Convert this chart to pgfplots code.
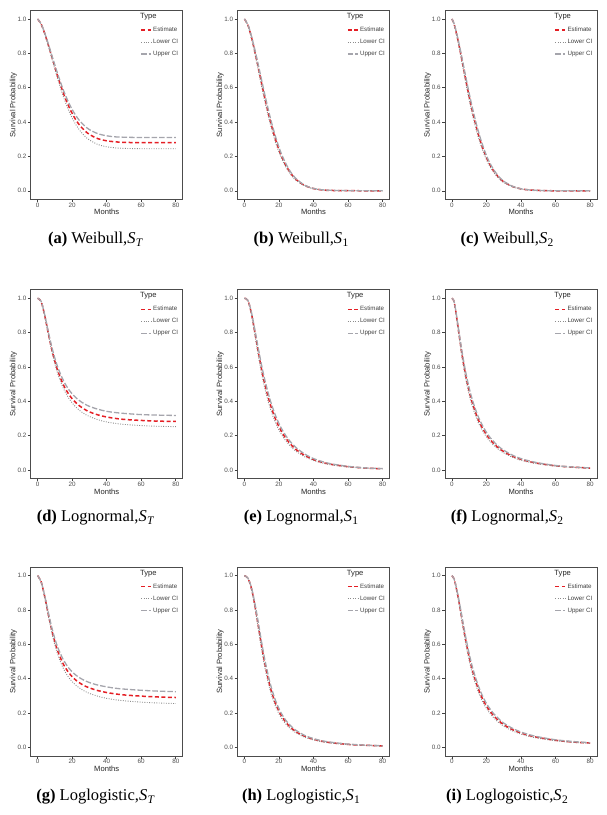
\documentclass[border=0pt]{standalone}
\usepackage{fontspec}
\setmainfont{Liberation Serif}
\newfontfamily\arial{Liberation Sans}
\usepackage{pgfplots}
\usepackage{pgfplotstable}
\pgfplotsset{compat=1.18}

\definecolor{estred}{RGB}{228,30,36}
\definecolor{lowgray}{RGB}{140,140,140}
\definecolor{upgray}{RGB}{165,165,172}

\pgfplotstableread{
t E L U
0 1.000 1.000 1.000
2 0.971 0.970 0.973
4 0.919 0.915 0.923
6 0.856 0.849 0.862
8 0.788 0.778 0.797
10 0.720 0.707 0.732
12 0.655 0.638 0.669
15 0.566 0.545 0.584
18 0.492 0.467 0.513
21 0.432 0.405 0.456
24 0.386 0.357 0.412
27 0.353 0.321 0.380
30 0.328 0.296 0.356
35 0.303 0.269 0.332
40 0.291 0.256 0.320
45 0.285 0.250 0.314
50 0.282 0.247 0.312
60 0.280 0.245 0.310
70 0.280 0.245 0.310
80 0.280 0.245 0.310
}\tabA

\pgfplotstableread{
t E L U
0 1.000 1.000 1.000
2 0.965 0.962 0.968
4 0.897 0.890 0.904
6 0.812 0.800 0.824
8 0.719 0.703 0.735
10 0.624 0.605 0.643
12 0.532 0.512 0.552
15 0.406 0.387 0.425
18 0.299 0.282 0.316
21 0.213 0.200 0.226
24 0.148 0.138 0.158
27 0.099 0.092 0.106
30 0.065 0.060 0.070
35 0.030 0.028 0.032
40 0.013 0.012 0.014
45 0.005 0.005 0.006
50 0.002 0.002 0.003
60 0.001 0.001 0.001
70 0.000 0.000 0.000
80 0.000 0.000 0.000
}\tabB

\pgfplotstableread{
t E L U
0 1.000 1.000 1.000
1 0.979 0.978 0.980
2 0.943 0.939 0.947
4 0.853 0.843 0.863
6 0.751 0.736 0.766
8 0.647 0.629 0.665
10 0.548 0.528 0.568
12 0.457 0.437 0.477
15 0.339 0.321 0.357
18 0.244 0.229 0.259
21 0.171 0.160 0.182
24 0.118 0.110 0.126
27 0.079 0.073 0.085
30 0.052 0.048 0.056
35 0.025 0.023 0.027
40 0.011 0.010 0.012
45 0.005 0.005 0.005
50 0.002 0.002 0.002
60 0.000 0.000 0.000
70 0.000 0.000 0.000
80 0.000 0.000 0.000
}\tabC

\pgfplotstableread{
t E L U
0 1.000 1.000 1.000
2 0.983 0.982 0.984
4 0.905 0.901 0.910
6 0.806 0.798 0.815
8 0.712 0.700 0.726
10 0.633 0.618 0.651
12 0.569 0.551 0.590
15 0.495 0.474 0.520
18 0.442 0.419 0.469
21 0.404 0.379 0.433
24 0.376 0.350 0.406
27 0.355 0.328 0.386
30 0.339 0.312 0.371
35 0.321 0.293 0.354
40 0.309 0.280 0.342
45 0.301 0.272 0.335
50 0.295 0.266 0.330
60 0.289 0.259 0.323
70 0.285 0.255 0.320
80 0.283 0.253 0.318
}\tabD

\pgfplotstableread{
t E L U
0 1.000 1.000 1.000
2 0.988 0.987 0.989
4 0.915 0.907 0.923
6 0.805 0.789 0.820
8 0.690 0.668 0.711
10 0.584 0.559 0.608
12 0.492 0.467 0.517
15 0.382 0.358 0.405
18 0.297 0.276 0.318
21 0.233 0.215 0.251
24 0.185 0.170 0.200
27 0.148 0.135 0.161
30 0.119 0.109 0.130
35 0.085 0.077 0.093
40 0.061 0.056 0.067
45 0.045 0.041 0.050
50 0.034 0.031 0.037
60 0.020 0.018 0.022
70 0.012 0.011 0.013
80 0.008 0.007 0.009
}\tabE

\pgfplotstableread{
t E L U
0 1.000 1.000 1.000
1 0.988 0.987 0.989
2 0.940 0.936 0.945
4 0.799 0.786 0.812
6 0.663 0.645 0.681
8 0.550 0.530 0.570
10 0.458 0.438 0.478
12 0.385 0.366 0.404
15 0.300 0.283 0.317
18 0.239 0.224 0.254
21 0.192 0.180 0.204
24 0.157 0.146 0.168
27 0.129 0.120 0.138
30 0.108 0.100 0.116
35 0.081 0.075 0.087
40 0.062 0.057 0.067
45 0.049 0.045 0.053
50 0.039 0.036 0.042
60 0.025 0.023 0.027
70 0.017 0.016 0.018
80 0.012 0.011 0.013
}\tabF

\pgfplotstableread{
t E L U
0 1.000 1.000 1.000
2 0.966 0.964 0.967
4 0.884 0.878 0.889
6 0.785 0.775 0.796
8 0.692 0.678 0.707
10 0.615 0.596 0.633
12 0.552 0.531 0.574
15 0.483 0.458 0.509
18 0.436 0.408 0.463
21 0.402 0.373 0.431
24 0.378 0.348 0.408
27 0.360 0.329 0.391
30 0.347 0.315 0.378
35 0.331 0.298 0.363
40 0.320 0.286 0.353
45 0.312 0.278 0.345
50 0.306 0.272 0.340
60 0.299 0.264 0.333
70 0.294 0.259 0.328
80 0.291 0.256 0.325
}\tabG

\pgfplotstableread{
t E L U
0 1.000 1.000 1.000
2 0.986 0.985 0.987
4 0.929 0.923 0.935
6 0.831 0.818 0.844
8 0.711 0.693 0.730
10 0.589 0.567 0.611
12 0.480 0.457 0.502
15 0.349 0.329 0.370
18 0.257 0.240 0.274
21 0.192 0.178 0.206
24 0.147 0.136 0.158
27 0.115 0.106 0.124
30 0.091 0.084 0.099
35 0.065 0.059 0.070
40 0.048 0.044 0.052
45 0.036 0.033 0.039
50 0.028 0.026 0.031
60 0.018 0.017 0.020
70 0.013 0.012 0.014
80 0.009 0.008 0.010
}\tabH

\pgfplotstableread{
t E L U
0 1.000 1.000 1.000
1 0.986 0.985 0.987
2 0.953 0.949 0.957
4 0.853 0.843 0.863
6 0.736 0.721 0.752
8 0.624 0.605 0.643
10 0.526 0.506 0.546
12 0.444 0.424 0.464
15 0.349 0.331 0.367
18 0.278 0.262 0.294
21 0.226 0.212 0.240
24 0.187 0.175 0.199
27 0.157 0.146 0.168
30 0.133 0.124 0.142
35 0.104 0.097 0.112
40 0.084 0.078 0.090
45 0.069 0.064 0.074
50 0.058 0.054 0.062
60 0.042 0.039 0.045
70 0.032 0.030 0.035
80 0.026 0.024 0.028
}\tabI

\pgfplotsset{
  est/.style={estred, line width=1.5pt, dash pattern=on 4pt off 2.5pt, smooth},
  low/.style={lowgray, line width=0.9pt, dash pattern=on 0.9pt off 1.5pt, smooth},
  upp/.style={upgray, line width=1.3pt, dash pattern=on 5.5pt off 2pt, smooth},
  panel/.style={
    scale only axis, width=152pt, height=189pt, anchor=south west,
    xmin=-4, xmax=84, ymin=-0.05, ymax=1.05,
    xtick={0,20,40,60,80}, ytick={0,0.2,0.4,0.6,0.8,1},
    yticklabel style={/pgf/number format/fixed, /pgf/number format/fixed zerofill,
      /pgf/number format/precision=1, xshift=2pt},
    xticklabel style={yshift=3pt},
    /pgf/number format/assume math mode=true,
    tick align=outside, tick pos=left,
    major tick length=2.8pt,
    every tick/.style={black!75, line width=0.6pt},
    axis line style={black!70, line width=0.9pt},
    tick label style={font=\arial\fontsize{6.3}{7}\selectfont, text=black!70},
    xlabel={Months}, ylabel={Survival Probability},
    every axis x label/.style={at={(axis description cs:0.5,-0.0672)}, anchor=center,
      font=\arial\fontsize{7.6}{8}\selectfont, text=black!85},
    every axis y label/.style={at={(axis description cs:-0.1145,0.5)}, rotate=90, anchor=center,
      font=\arial\fontsize{7.6}{8}\selectfont, text=black!85},
    legend style={at={(axis description cs:0.722,0.919)}, anchor=north west,
      draw=none, fill=none, inner sep=0pt, outer sep=0pt, row sep=3.6pt,
      font=\arial\fontsize{6.2}{7}\selectfont, text=black!75,
      nodes={inner sep=1.3pt}},
    legend cell align=left,
    legend image code/.code={\draw[#1] (0pt,0pt) -- (10pt,0pt);},
  }
}

\newcommand{\panel}[3]{%
\begin{axis}[panel, at={(#1pt,#2pt)}]
\addplot[est] table[x=t,y=E]{#3}; \addlegendentry{Estimate}
\addplot[low] table[x=t,y=L]{#3}; \addlegendentry{Lower CI}
\addplot[upp] table[x=t,y=U]{#3}; \addlegendentry{Upper CI}
\node[anchor=west, inner sep=0pt, font=\arial\fontsize{7.6}{8}\selectfont, text=black!85] at (axis description cs:0.719,0.967) {Type};
\end{axis}}

\newcommand{\subcap}[3]{\node[anchor=base, inner sep=0pt, font=\fontsize{16.5}{18}\selectfont] at (#1pt,#2pt) {#3};}
\newcommand{\subs}[1]{\kern0.3pt\raisebox{-0.35ex}{\fontsize{11.5}{12}\selectfont #1}}

\begin{document}
\begin{tikzpicture}
\useasboundingbox (0pt,0pt) rectangle (607pt,815pt);
\panel{30.7}{615.6}{\tabA}
\panel{237.5}{615.6}{\tabB}
\panel{445}{615.6}{\tabC}
\panel{30.7}{336.3}{\tabD}
\panel{237.5}{336.3}{\tabE}
\panel{445}{336.3}{\tabF}
\panel{30.7}{58.9}{\tabG}
\panel{237.5}{58.9}{\tabH}
\panel{445}{58.9}{\tabI}
\subcap{95.5}{571.5}{\textbf{(a)} Weibull,\textit{S}\subs{\textit{T}}}
\subcap{301}{571.5}{\textbf{(b)} Weibull,\textit{S}\subs{1}}
\subcap{507}{571.5}{\textbf{(c)} Weibull,\textit{S}\subs{2}}
\subcap{95.5}{293}{\textbf{(d)} Lognormal,\textit{S}\subs{\textit{T}}}
\subcap{301}{293}{\textbf{(e)} Lognormal,\textit{S}\subs{1}}
\subcap{507}{293}{\textbf{(f)} Lognormal,\textit{S}\subs{2}}
\subcap{95.5}{14.5}{\textbf{(g)} Loglogistic,\textit{S}\subs{\textit{T}}}
\subcap{301}{14.5}{\textbf{(h)} Loglogistic,\textit{S}\subs{1}}
\subcap{507}{14.5}{\textbf{(i)} Loglogoistic,\textit{S}\subs{2}}
\end{tikzpicture}
\end{document}
